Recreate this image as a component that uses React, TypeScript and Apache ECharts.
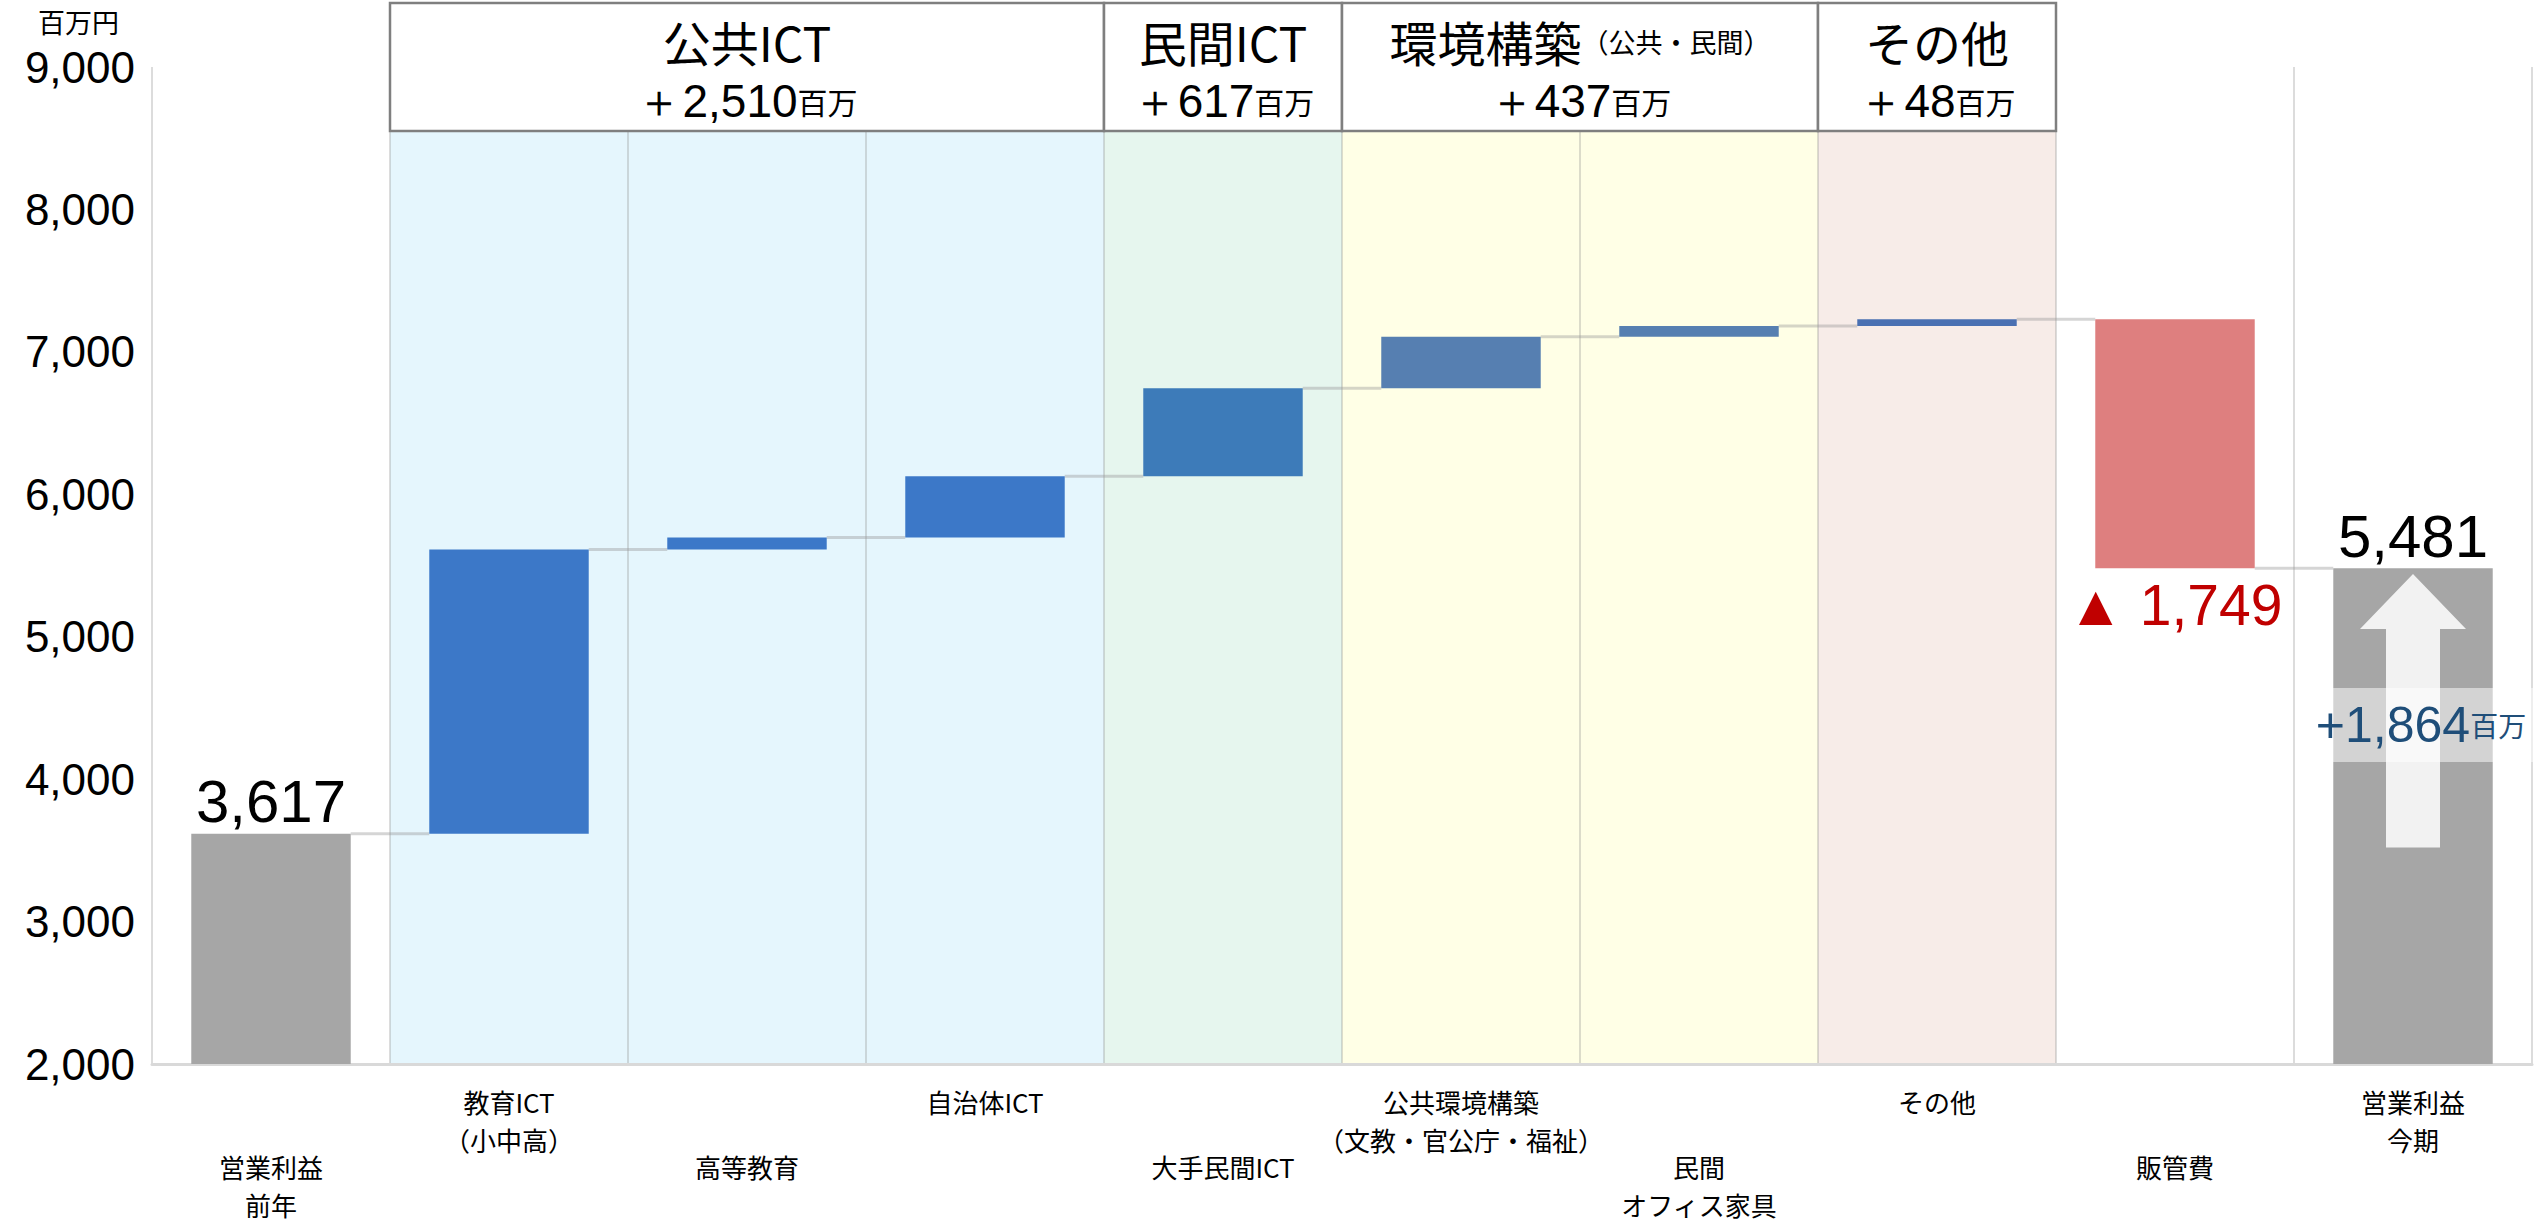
import React, { useEffect, useRef } from 'react';
import * as echarts from 'echarts';

// ---- data ----
const categories = [
  '営業利益\n前年',
  '教育ICT\n（小中高）',
  '高等教育',
  '自治体ICT',
  '大手民間ICT',
  '公共環境構築\n（文教・官公庁・福祉）',
  '民間\nオフィス家具',
  'その他',
  '販管費',
  '営業利益\n今期',
];
const prevProfit = 3617;
const currProfit = 5481;
const deltas = [1995, 84, 431, 617, 362, 75, 48, -1749];
const barColors = ['#A6A6A6', '#3C78C8', '#3C78C8', '#3C78C8', '#3D7BB9', '#567FB1', '#567FB1', '#4A70B2', '#DE7F7F', '#A6A6A6'];
const yMin = 2000;
const yMax = 9000;
const yStep = 1000;

const groupTitles = ['公共ICT', '民間ICT', '環境構築', 'その他'];
const groupNotes = ['', '', '（公共・民間）', ''];
const groupAmounts = ['＋2,510', '＋617', '＋437', '＋48'];
const groupFrom = [1, 4, 5, 7];
const groupTo = [3, 4, 6, 7];
const groupFills = ['#E5F6FD', '#E6F6EE', '#FFFFE6', '#F7ECE8'];

const growthText = '+1,864';
const arrowSpan = [3520, 5440];
const growthLabelAt = 4380;

// ---- derived ----
const baseVals: number[] = [0];
const barVals: number[] = [prevProfit];
const levels: number[] = [prevProfit];
let run = prevProfit;
deltas.forEach((d) => {
  const s = run;
  run += d;
  baseVals.push(Math.min(s, run));
  barVals.push(Math.abs(d));
  levels.push(run);
});
baseVals.push(0);
barVals.push(currProfit);
levels.push(currProfit);

const fmt = (v: number) => v.toLocaleString('en-US');
const JP = '"Noto Sans CJK JP", sans-serif';
const NUM = '"Liberation Sans", Arial, sans-serif';
const BAR_RATIO = 0.67;
const HEADER_TOP = 3;
const HEADER_BOTTOM = 131;

export default function App() {
  const ref = useRef<HTMLDivElement>(null);
  useEffect(() => {
    const el = ref.current!;
    const chart = echarts.init(el, null, { renderer: 'svg' });

    const shadingSeries = {
      type: 'custom',
      z: -1,
      clip: false,
      silent: true,
      data: groupFrom.map((f) => [f, yMin]),
      renderItem: (params: any, api: any) => {
        const i = params.dataIndex;
        const bw = api.size([1, 0])[0];
        const x0 = api.coord([groupFrom[i], yMax])[0] - bw / 2;
        const x1 = api.coord([groupTo[i], yMax])[0] + bw / 2;
        const yb = api.coord([groupFrom[i], yMin])[1];
        return {
          type: 'rect',
          shape: { x: x0, y: HEADER_BOTTOM, width: x1 - x0, height: yb - HEADER_BOTTOM },
          style: { fill: groupFills[i] },
        };
      },
    };

    const headerSeries = {
      type: 'custom',
      z: 10,
      clip: false,
      silent: true,
      data: groupFrom.map((f) => [f, yMax]),
      renderItem: (params: any, api: any) => {
        const i = params.dataIndex;
        const bw = api.size([1, 0])[0];
        const x0 = api.coord([groupFrom[i], yMax])[0] - bw / 2;
        const x1 = api.coord([groupTo[i], yMax])[0] + bw / 2;
        const line1 = groupNotes[i]
          ? `{t|${groupTitles[i]}}{n|${groupNotes[i]}}`
          : `{t|${groupTitles[i]}}`;
        const line2 = `{v|${groupAmounts[i]}}{u|百万}`;
        return {
          type: 'group',
          children: [
            {
              type: 'rect',
              shape: { x: x0, y: HEADER_TOP, width: x1 - x0, height: HEADER_BOTTOM - HEADER_TOP },
              style: { fill: '#FFFFFF', stroke: '#7F7F7F', lineWidth: 2.5 },
            },
            {
              type: 'text',
              x: (x0 + x1) / 2,
              y: (HEADER_TOP + HEADER_BOTTOM) / 2 + 4,
              style: {
                text: line1 + '\n' + line2,
                align: 'center',
                verticalAlign: 'middle',
                fill: '#000',
                rich: {
                  t: { fontSize: 48, fontFamily: JP, fill: '#000', lineHeight: 60 },
                  n: { fontSize: 27, fontFamily: JP, fill: '#000', lineHeight: 60 },
                  v: { fontSize: 46, fontFamily: NUM, fill: '#000', lineHeight: 60 },
                  u: { fontSize: 30, fontFamily: JP, fill: '#000', lineHeight: 60 },
                },
              },
            },
          ],
        };
      },
    };

    const connectorSeries = {
      type: 'custom',
      z: 1,
      clip: false,
      silent: true,
      data: levels.slice(0, levels.length - 1).map((l, i) => [i, l]),
      renderItem: (params: any, api: any) => {
        const i = params.dataIndex;
        const bw = api.size([1, 0])[0];
        const half = (bw * BAR_RATIO) / 2;
        const p1 = api.coord([i, levels[i]]);
        const p2 = api.coord([i + 1, levels[i]]);
        return {
          type: 'line',
          shape: { x1: p1[0] + half, y1: p1[1], x2: p2[0] - half, y2: p1[1] },
          style: { stroke: 'rgba(150,150,150,0.4)', lineWidth: 3 },
        };
      },
    };

    const last = categories.length - 1;
    const arrowSeries = {
      type: 'custom',
      z: 5,
      clip: false,
      silent: true,
      data: [[last, arrowSpan[1]]],
      renderItem: (params: any, api: any) => {
        const cx = api.coord([last, arrowSpan[0]])[0];
        const yB = api.coord([last, arrowSpan[0]])[1];
        const yA = api.coord([last, arrowSpan[1]])[1];
        const yH = yA + 55;
        const sw = 27;
        const hw = 53;
        const yL = api.coord([last, growthLabelAt])[1];
        return {
          type: 'group',
          children: [
            {
              type: 'polygon',
              shape: {
                points: [
                  [cx - sw, yB], [cx + sw, yB], [cx + sw, yH], [cx + hw, yH],
                  [cx, yA], [cx - hw, yH], [cx - sw, yH],
                ],
              },
              style: { fill: '#F2F2F2' },
            },
            {
              type: 'rect',
              shape: { x: cx - 80, y: yL - 37, width: 200, height: 74 },
              style: { fill: 'rgba(255,255,255,0.5)' },
            },
            {
              type: 'text',
              x: cx + 8,
              y: yL,
              style: {
                text: `{v|${growthText}}{u|百万}`,
                align: 'center',
                verticalAlign: 'middle',
                rich: {
                  v: { fontSize: 50, fontFamily: NUM, fill: '#1F4E79', lineHeight: 60 },
                  u: { fontSize: 28, fontFamily: JP, fill: '#1F4E79', lineHeight: 60 },
                },
              },
            },
          ],
        };
      },
    };

    const catLabel = {
      fontSize: 26,
      lineHeight: 38,
      color: '#000',
      fontFamily: JP,
    };

    const option = {
      animation: false,
      textStyle: { fontFamily: JP },
      grid: { left: 152, right: 10, top: 67, bottom: 160, containLabel: false },
      xAxis: [
        {
          type: 'category',
          data: categories,
          axisTick: { show: false },
          axisLine: { show: true, lineStyle: { color: '#D9D9D9', width: 3 } },
          splitLine: { show: true, interval: 0, lineStyle: { color: 'rgba(140,140,140,0.3)', width: 2 } },
          axisLabel: { ...catLabel, margin: 18, interval: (idx: number) => idx % 2 === 1 },
        },
        {
          type: 'category',
          data: categories,
          position: 'bottom',
          axisTick: { show: false },
          axisLine: { show: false },
          splitLine: { show: false },
          axisLabel: { ...catLabel, margin: 83, interval: (idx: number) => idx % 2 === 0 },
        },
      ],
      yAxis: {
        type: 'value',
        min: yMin,
        max: yMax,
        interval: yStep,
        axisLine: { show: false },
        axisTick: { show: false },
        splitLine: { show: false },
        axisLabel: { fontSize: 44, color: '#000', fontFamily: NUM, margin: 17, formatter: (v: number) => fmt(v) },
      },
      graphic: [
        {
          type: 'text',
          left: 38,
          top: 8,
          style: { text: '百万円', fontSize: 27, fontFamily: JP, fill: '#000' },
        },
      ],
      series: [
        shadingSeries,
        {
          type: 'bar',
          stack: 'w',
          barWidth: `${BAR_RATIO * 100}%`,
          silent: true,
          itemStyle: { color: 'transparent' },
          data: baseVals,
        },
        {
          type: 'bar',
          stack: 'w',
          barWidth: `${BAR_RATIO * 100}%`,
          silent: true,
          data: barVals.map((v, i) => {
            const item: any = { value: v, itemStyle: { color: barColors[i] } };
            if (i === 0 || i === last) {
              item.label = {
                show: true,
                position: 'top',
                distance: 2,
                fontSize: 60,
                fontFamily: NUM,
                color: '#000',
                formatter: () => fmt(v),
              };
            } else if (deltas[i - 1] < 0) {
              item.label = {
                show: true,
                position: 'bottom',
                distance: 8,
                fontSize: 57,
                fontFamily: NUM,
                color: '#C00000',
                formatter: () => '▲ ' + fmt(v),
              };
            }
            return item;
          }),
        },
        connectorSeries,
        arrowSeries,
        headerSeries,
      ],
    };

    chart.setOption(option as any);
    return () => chart.dispose();
  }, []);
  return (
    <div
      ref={ref}
      style={{ position: 'fixed', left: 0, top: 0, width: 2542, height: 1224, background: '#fff' }}
    />
  );
}
